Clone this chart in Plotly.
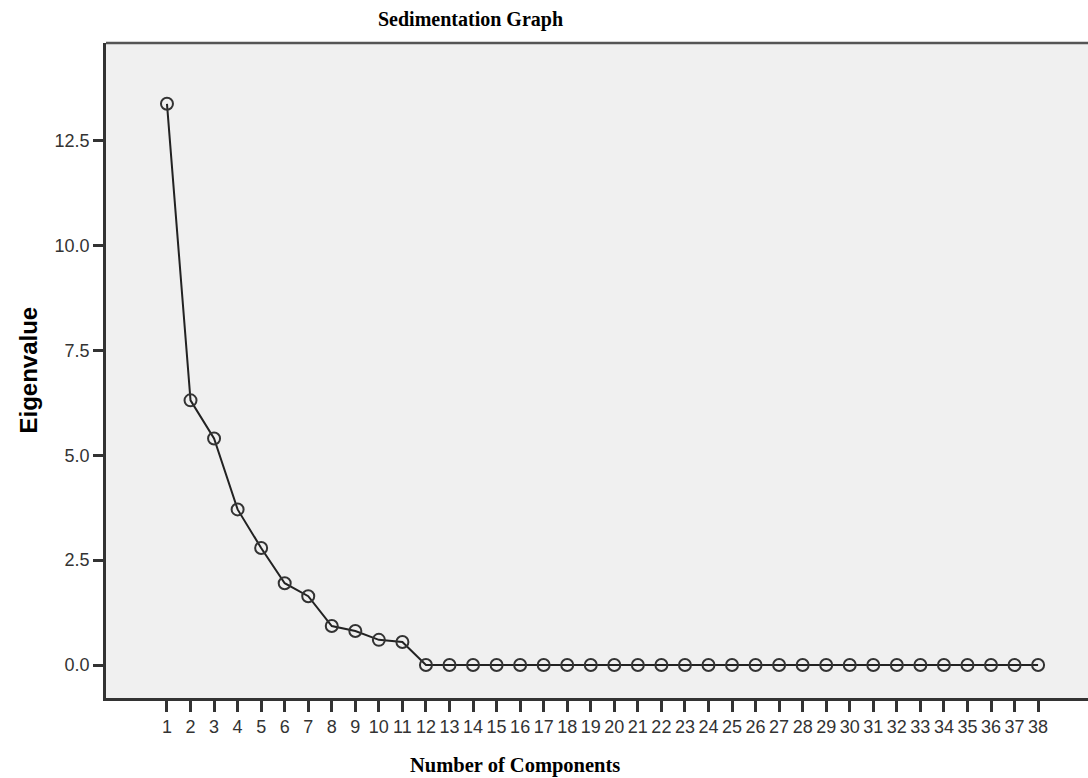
import plotly.graph_objects as go

components = list(range(1, 39))
eigenvalues = [13.38, 6.31, 5.40, 3.71, 2.79, 1.95, 1.64, 0.93, 0.81, 0.60, 0.55] + [0.0] * 27
y_ticks = [0.0, 2.5, 5.0, 7.5, 10.0, 12.5]

fig = go.Figure()
fig.add_trace(go.Scatter(
    x=components, y=eigenvalues, mode="lines+markers",
    line=dict(color="#222222", width=2),
    marker=dict(symbol="circle-open", size=12, color="#333333", line=dict(width=2)),
    showlegend=False,
))

tick_font = dict(family="Liberation Sans, Arial", size=18, color="#333333")

fig.update_layout(
    width=1088, height=778,
    margin=dict(l=106, r=0, t=43, b=80),
    paper_bgcolor="white", plot_bgcolor="#F0F0F0",
    xaxis=dict(range=[-1.59, 40.12], tickvals=components, ticktext=[str(c) for c in components],
               showgrid=False, zeroline=False, showline=True, linecolor="#333333", linewidth=2.5,
               ticks="outside", ticklen=11, tickwidth=2.5, tickcolor="#333333",
               tickfont=tick_font),
    yaxis=dict(range=[-0.786, 14.83], tickvals=y_ticks, tickformat=".1f",
               showgrid=False, zeroline=False, showline=True, linecolor="#333333", linewidth=2.5,
               ticks="outside", ticklen=10, tickwidth=2.5, tickcolor="#333333",
               tickfont=tick_font),
    shapes=[dict(type="line", xref="paper", yref="paper", x0=0, x1=1, y0=1, y1=1,
                 line=dict(color="#555555", width=2.5))],
    annotations=[
        dict(text="<b>Sedimentation Graph</b>", xref="paper", yref="paper", x=0.3707, y=1.036,
             xanchor="center", yanchor="middle",
             showarrow=False, font=dict(family="Liberation Serif, serif", size=20, color="black")),
        dict(text="<b>Number of Components</b>", xref="paper", yref="paper", x=0.4165, y=-0.1037,
             xanchor="center", yanchor="middle",
             showarrow=False, font=dict(family="Liberation Serif, serif", size=20.5, color="black")),
        dict(text="<b>Eigenvalue</b>", xref="paper", yref="paper", x=-0.0794, y=0.5, textangle=-90,
             xanchor="center", yanchor="middle",
             showarrow=False, font=dict(family="Liberation Sans, Arial", size=24, color="black")),
    ],
)

fig.write_html("out.html")
